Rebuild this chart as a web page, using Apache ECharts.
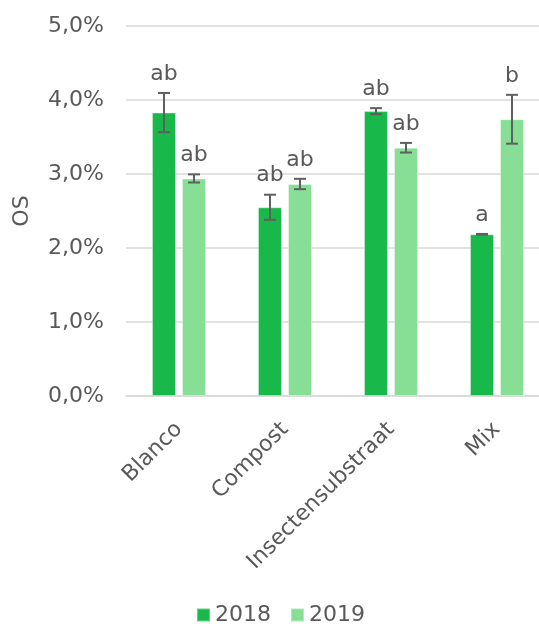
<!DOCTYPE html>
<html>
<head>
<meta charset="utf-8">
<script src="https://cdn.jsdelivr.net/npm/echarts@6/dist/echarts.min.js"></script>
<style>html,body{margin:0;padding:0;background:#fff}#c{width:539px;height:624px}</style>
</head>
<body>
<div id="c"></div>
<script>
const categories = ['Blanco', 'Compost', 'Insectensubstraat', 'Mix'];
const seriesNames = ['2018', '2019'];
const os2018 = [3.83, 2.55, 3.85, 2.185];
const os2019 = [2.94, 2.865, 3.355, 3.74];
const err2018 = [0.265, 0.17, 0.04, 0.005];
const err2019 = [0.055, 0.07, 0.065, 0.33];
const letters2018 = ['ab', 'ab', 'ab', 'a'];
const letters2019 = ['ab', 'ab', 'ab', 'b'];
const yTicks = [0, 1, 2, 3, 4, 5];

const FONT = 'DejaVu Sans';
const TXT = '#595959';
const C18 = '#19B84A';
const C19 = '#87DE95';

function errData(vals, errs, side) {
  return vals.map((v, i) => [i, v, errs[i], side]);
}
const allLetters = [letters2018, letters2019];

function renderErr(letters) {
  return function (params, api) {
    const i = api.value(0);
    const v = api.value(1);
    const e = api.value(2);
    const side = api.value(3);
    const off = side * 15;
    const top = api.coord([i, v + e]);
    const bot = api.coord([i, v - e]);
    const x = top[0] + off;
    const ls = {stroke: '#5f5f5f', lineWidth: 2};
    return {
      type: 'group',
      children: [
        {type: 'line', shape: {x1: x, y1: top[1], x2: x, y2: bot[1]}, style: ls},
        {type: 'line', shape: {x1: x - 6, y1: top[1], x2: x + 6, y2: top[1]}, style: ls},
        {type: 'line', shape: {x1: x - 6, y1: bot[1], x2: x + 6, y2: bot[1]}, style: ls},
        {type: 'text', x: x, y: top[1] - 19,
          style: {text: letters[params.dataIndex], fill: TXT, fontSize: 22, fontFamily: FONT,
            align: 'center', verticalAlign: 'middle'}}
      ]
    };
  };
}

const chart = echarts.init(document.getElementById('c'));
chart.setOption({
  animation: false,
  backgroundColor: '#fff',
  grid: {left: 126, right: -11, top: 26, bottom: 228, containLabel: false, outerBoundsMode: 'none'},
  legend: {
    data: seriesNames, left: 196, top: 604, padding: 0, icon: 'rect', itemWidth: 13, itemHeight: 13,
    itemGap: 19, textStyle: {fontSize: 22, fontFamily: FONT, color: TXT}
  },
  xAxis: {
    type: 'category', data: categories,
    axisLine: {lineStyle: {color: '#D9D9D9', width: 1.5}},
    axisTick: {show: false},
    axisLabel: {rotate: 45, fontSize: 22, fontFamily: FONT, color: TXT, margin: 30, interval: 0}
  },
  yAxis: {
    type: 'value', min: yTicks[0], max: yTicks[yTicks.length - 1], interval: 1,
    name: 'OS', nameLocation: 'middle', nameRotate: 90, nameGap: 93,
    nameTextStyle: {fontSize: 22, fontFamily: FONT, color: TXT},
    axisLine: {show: false}, axisTick: {show: false},
    splitLine: {lineStyle: {color: '#D9D9D9', width: 1.5}},
    axisLabel: {fontSize: 22, fontFamily: FONT, color: TXT, margin: 22,
      formatter: v => v.toFixed(1).replace('.', ',') + '%'}
  },
  series: [
    {name: seriesNames[0], type: 'bar', data: os2018, barWidth: 24, barGap: '25%',
      itemStyle: {color: C18, borderColor: 'rgba(255,255,255,0.35)', borderWidth: 1}},
    {name: seriesNames[1], type: 'bar', data: os2019, barWidth: 24, barGap: '25%',
      itemStyle: {color: C19, borderColor: 'rgba(255,255,255,0.35)', borderWidth: 1}},
    {type: 'custom', data: errData(os2018, err2018, -1), encode: {x: 0, y: 1},
      renderItem: renderErr(allLetters[0]), z: 5, silent: true},
    {type: 'custom', data: errData(os2019, err2019, 1), encode: {x: 0, y: 1},
      renderItem: renderErr(allLetters[1]), z: 5, silent: true}
  ]
});
</script>
</body>
</html>
